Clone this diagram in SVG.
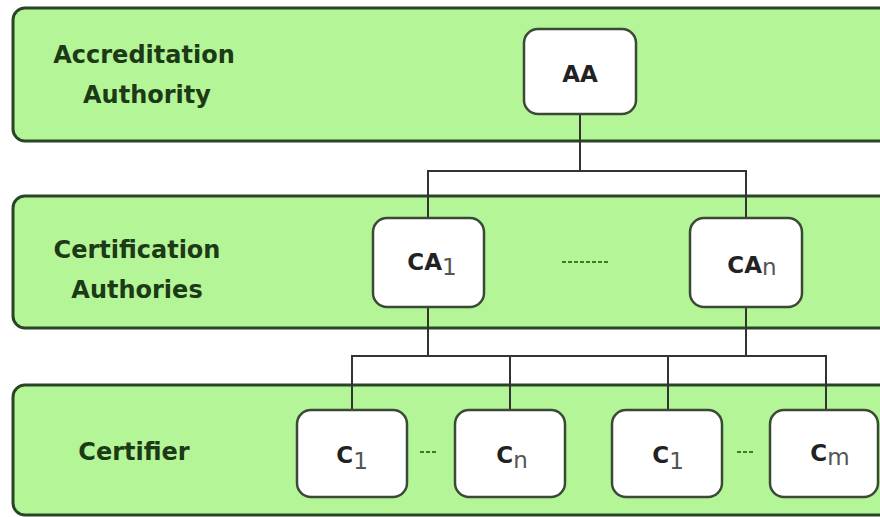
<svg xmlns="http://www.w3.org/2000/svg" width="880" height="517" viewBox="0 0 880 517">
<style>
.band{fill:#b4f598;stroke:#2a4426;stroke-width:3}
.lbl{font-family:"DejaVu Sans",sans-serif;font-weight:700;font-size:24px;fill:#1c3a16;text-anchor:middle}
.node{fill:#ffffff;stroke:#3a4a36;stroke-width:2.5}
.nt{font-family:"DejaVu Sans",sans-serif;font-weight:700;font-size:23px;fill:#222;text-anchor:middle}
.sub{font-weight:400;fill:#555;font-size:23px}
.conn{fill:none;stroke:#333;stroke-width:2}
.dash{stroke:#3a7a2a;stroke-width:2;stroke-dasharray:4 2;fill:none}
</style>
<rect width="880" height="517" fill="#ffffff"/>
<g id="band-aa">
<rect class="band" x="13" y="8" width="878" height="133" rx="12"/>
<text class="lbl" x="144" y="63">Accreditation</text>
<text class="lbl" x="147" y="103">Authority</text>
</g>
<g id="band-ca">
<rect class="band" x="13" y="196" width="878" height="132" rx="12"/>
<text class="lbl" x="137" y="258">Certification</text>
<text class="lbl" x="137" y="298">Authories</text>
<path class="dash" d="M562 262 H608"/>
</g>
<g id="band-c">
<rect class="band" x="13" y="385" width="878" height="130" rx="12"/>
<text class="lbl" x="134" y="460">Certifier</text>
<path class="dash" d="M420 452 H437 M737 452 H755"/>
</g>
<g id="connectors">
<path class="conn" d="M580 114 V171 M428 218 V171 H746 V218"/>
<path class="conn" d="M428 307 V356 M746 307 V356 M352 410 V356 H826 V410 M510 356 V410 M668 356 V410"/>
</g>
<g id="node-aa">
<rect class="node" x="524" y="29" width="112" height="85" rx="14"/>
<text class="nt" x="580" y="82">AA</text>
</g>
<g id="node-ca1">
<rect class="node" x="373" y="218" width="111" height="89" rx="14"/>
<text class="nt" x="432" y="270">CA<tspan class="sub" dy="5">1</tspan></text>
</g>
<g id="node-can">
<rect class="node" x="690" y="218" width="112" height="89" rx="14"/>
<text class="nt" x="752" y="273">CA<tspan class="sub" dy="2">n</tspan></text>
</g>
<g id="node-c1a">
<rect class="node" x="297" y="410" width="110" height="87" rx="14"/>
<text class="nt" x="352" y="463">C<tspan class="sub" dy="6">1</tspan></text>
</g>
<g id="node-cn">
<rect class="node" x="455" y="410" width="110" height="87" rx="14"/>
<text class="nt" x="512" y="463">C<tspan class="sub" dy="5">n</tspan></text>
</g>
<g id="node-c1b">
<rect class="node" x="612" y="410" width="110" height="87" rx="14"/>
<text class="nt" x="668" y="463">C<tspan class="sub" dy="6">1</tspan></text>
</g>
<g id="node-cm">
<rect class="node" x="770" y="410" width="108" height="87" rx="14"/>
<text class="nt" x="830" y="461">C<tspan class="sub" dy="4">m</tspan></text>
</g>
</svg>
